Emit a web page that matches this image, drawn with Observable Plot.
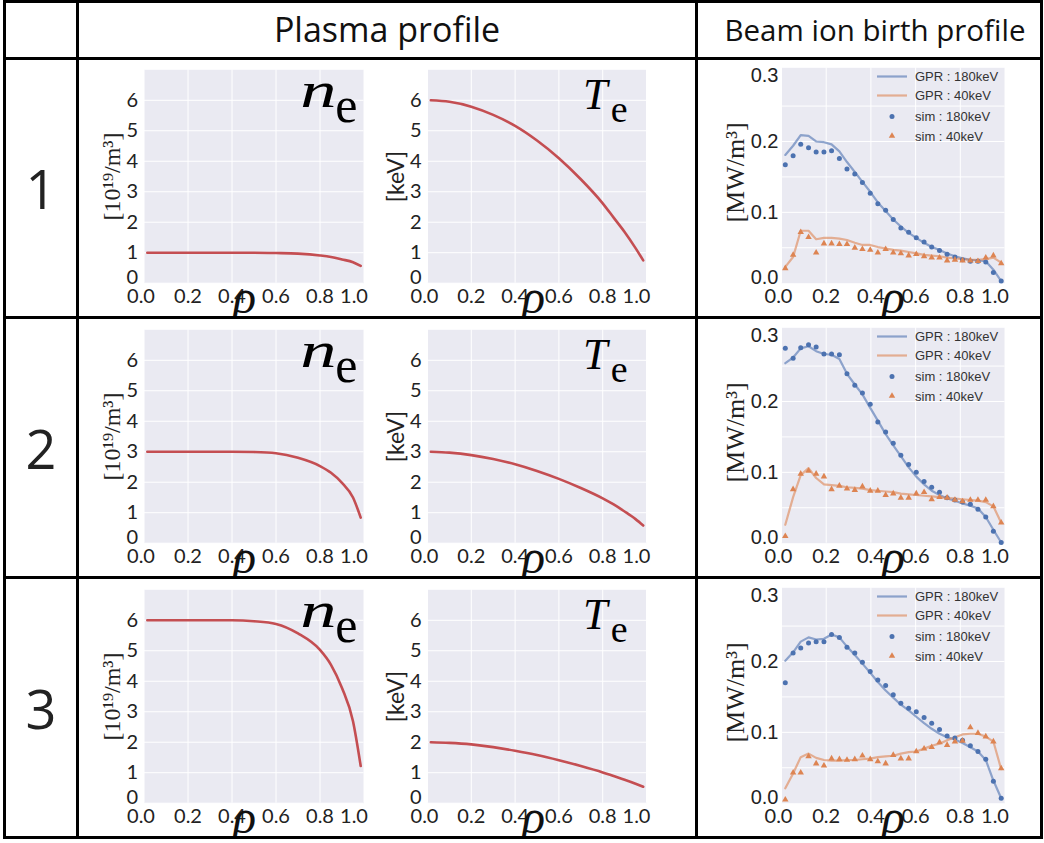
<!DOCTYPE html>
<html><head><meta charset="utf-8">
<script src="https://cdn.jsdelivr.net/npm/d3@7"></script>
<script src="https://cdn.jsdelivr.net/npm/@observablehq/plot@0.6"></script>
<style>
html,body{margin:0;padding:0;background:#fff;}
body{width:1044px;height:843px;position:relative;overflow:hidden;font-family:Lato,sans-serif;}
.box{position:absolute;}
.ln{position:absolute;background:#000;}
.hdr{position:absolute;top:0;height:58px;display:flex;align-items:center;justify-content:center;font-family:"Open Sans",sans-serif;color:#111;}
.num{position:absolute;left:6px;width:70px;display:flex;align-items:center;justify-content:center;font-family:"Open Sans",sans-serif;font-size:54px;color:#222;}
</style></head>
<body>
<div class="hdr" style="left:79px;width:616px;font-size:34px">Plasma profile</div>
<div class="hdr" style="left:704px;width:342px;font-size:29.5px">Beam ion birth profile</div>
<script>
// ---------------- data ----------------
const rowNames = ["1", "2", "3"];
const xTicks = [0, 0.2, 0.4, 0.6, 0.8, 1.0];
const plasmaYTicks = [0, 1, 2, 3, 4, 5, 6];
const beamYTicks = [0, 0.1, 0.2, 0.3];
const beamGrid = [0.05, 0.1, 0.15, 0.2, 0.25];

const rhoProfile = [0.015, 0.1, 0.2, 0.3, 0.4, 0.5, 0.6, 0.7, 0.8, 0.85, 0.9, 0.95, 0.985];
const ne1 = [1.0, 1.0, 1.0, 1.0, 1.0, 1.0, 0.99, 0.97, 0.91, 0.86, 0.78, 0.69, 0.57];
const ne2 = [3.0, 3.0, 3.0, 3.0, 3.0, 2.99, 2.95, 2.80, 2.53, 2.31, 1.98, 1.50, 0.84];
const ne3 = [6.0, 6.0, 6.0, 6.0, 6.0, 5.97, 5.88, 5.57, 5.03, 4.54, 3.78, 2.69, 1.22];
const te1 = [6.0, 5.95, 5.79, 5.52, 5.16, 4.68, 4.10, 3.41, 2.62, 2.15, 1.68, 1.15, 0.75];
const te2 = [3.0, 2.97, 2.89, 2.76, 2.59, 2.37, 2.11, 1.81, 1.47, 1.27, 1.04, 0.79, 0.58];
const te3 = [2.0, 1.98, 1.93, 1.84, 1.72, 1.58, 1.41, 1.22, 1.01, 0.89, 0.77, 0.64, 0.54];

const rhoBeam = [0.017,0.052,0.086,0.121,0.155,0.190,0.224,0.259,0.293,0.328,0.362,0.397,0.431,0.466,0.500,0.534,0.569,0.603,0.638,0.672,0.707,0.741,0.776,0.810,0.845,0.879,0.914,0.948,0.983];

const gpr180_1 = [0.181,0.194,0.209,0.208,0.200,0.199,0.196,0.186,0.171,0.157,0.143,0.129,0.114,0.102,0.090,0.080,0.071,0.064,0.057,0.051,0.047,0.042,0.038,0.035,0.033,0.032,0.031,0.019,0.003];
const gpr40_1  = [0.023,0.037,0.074,0.074,0.062,0.064,0.064,0.063,0.061,0.057,0.054,0.054,0.051,0.049,0.047,0.046,0.044,0.042,0.040,0.039,0.038,0.036,0.035,0.034,0.033,0.033,0.034,0.036,0.029];
const sim180_1 = [0.167,0.180,0.196,0.191,0.185,0.185,0.187,0.176,0.161,0.154,0.142,0.127,0.112,0.103,0.090,0.078,0.072,0.064,0.058,0.051,0.046,0.041,0.037,0.033,0.031,0.031,0.030,0.015,0.003];
const sim40_1  = [0.021,0.040,0.072,0.065,0.043,0.056,0.056,0.055,0.055,0.050,0.048,0.047,0.043,0.048,0.043,0.042,0.039,0.041,0.038,0.036,0.036,0.032,0.033,0.032,0.032,0.031,0.036,0.039,0.028];

const gpr180_2 = [0.254,0.262,0.275,0.278,0.271,0.267,0.266,0.260,0.239,0.224,0.210,0.191,0.173,0.154,0.138,0.123,0.107,0.094,0.083,0.074,0.068,0.063,0.060,0.056,0.053,0.049,0.037,0.019,0.001];
const gpr40_2  = [0.026,0.065,0.096,0.106,0.092,0.083,0.082,0.081,0.079,0.078,0.077,0.075,0.074,0.073,0.072,0.070,0.069,0.068,0.067,0.066,0.065,0.064,0.063,0.062,0.061,0.060,0.058,0.052,0.029];
const sim180_2 = [0.275,0.261,0.276,0.280,0.277,0.267,0.267,0.266,0.239,0.223,0.212,0.196,0.171,0.157,0.141,0.124,0.111,0.100,0.087,0.079,0.072,0.064,0.061,0.058,0.055,0.048,0.037,0.017,0.001];
const sim40_2  = [0.010,0.076,0.098,0.102,0.098,0.094,0.076,0.081,0.077,0.075,0.080,0.074,0.074,0.068,0.070,0.064,0.064,0.070,0.072,0.062,0.065,0.064,0.061,0.059,0.061,0.061,0.061,0.052,0.029];

const gpr180_3 = [0.201,0.213,0.228,0.234,0.231,0.232,0.238,0.234,0.221,0.209,0.197,0.184,0.171,0.159,0.149,0.139,0.131,0.122,0.113,0.105,0.098,0.093,0.090,0.085,0.079,0.073,0.061,0.032,0.007];
const gpr40_3  = [0.021,0.042,0.065,0.070,0.064,0.061,0.060,0.060,0.061,0.061,0.062,0.063,0.065,0.066,0.067,0.070,0.072,0.073,0.077,0.081,0.084,0.089,0.093,0.097,0.098,0.098,0.094,0.087,0.048];
const sim180_3 = [0.170,0.212,0.219,0.226,0.228,0.228,0.238,0.234,0.220,0.212,0.199,0.186,0.174,0.166,0.153,0.141,0.134,0.129,0.121,0.113,0.104,0.095,0.092,0.089,0.081,0.073,0.062,0.031,0.007];
const sim40_3  = [0.005,0.043,0.043,0.066,0.056,0.053,0.063,0.062,0.061,0.062,0.067,0.062,0.059,0.056,0.068,0.063,0.063,0.073,0.077,0.079,0.086,0.082,0.087,0.088,0.107,0.099,0.094,0.087,0.049];

const neRows = [ne1, ne2, ne3];
const teRows = [te1, te2, te3];
const beamRows = [
  [gpr180_1, gpr40_1, sim180_1, sim40_1],
  [gpr180_2, gpr40_2, sim180_2, sim40_2],
  [gpr180_3, gpr40_3, sim180_3, sim40_3]
];
const legendLabels = ["GPR : 180keV", "GPR : 40keV", "sim : 180keV", "sim : 40keV"];

// ---------------- style ----------------
const BG = "#eaeaf2", RED = "#c44e52", BLUE = "#4c72b0", ORANGE = "#dd8452";
const ROW0 = 57, ROWSTEP = 260, H = 259;

function place(el, left, top) {
  const d = document.createElement("div");
  d.className = "box";
  d.style.left = left + "px";
  d.style.top = top + "px";
  d.appendChild(el);
  document.body.appendChild(d);
  return d;
}

const rhoMark = (dx) => Plot.text(["\u03C1"], {text: d => d, frameAnchor: "bottom", lineAnchor: "middle", textAnchor: "middle",
  dx, dy: 14, fontFamily: "Liberation Serif", fontStyle: "italic", fontSize: 48, fill: "#111"});

function appendTransform(el, extra) {
  const t = el.getAttribute("transform");
  el.setAttribute("transform", (t ? t + " " : "") + extra);
}

function stretchN(plot) {
  d3.select(plot).selectAll("text").filter(function() { return this.textContent === "n"; }).each(function() {
    const t = this.getAttribute("transform");
    if (t) {
      this.setAttribute("transform", t + " scale(1.45,1)");
    } else {
      const x = parseFloat(this.getAttribute("x")) || 0;
      this.setAttribute("x", 0);
      this.setAttribute("transform", `translate(${x},0) scale(1.45,1)`);
    }
  });
}

// edge tick labels are nudged inward in the reference
function nudgeTicks(plot, yShift, beam) {
  const sel = d3.select(plot);
  sel.selectAll('g[aria-label="y-axis tick label"]').each(function() {
    if (beam) this.setAttribute("font-family", "Liberation Sans");
    d3.select(this).selectAll("text").each(function() {
      const s = this.textContent;
      if (s in yShift) appendTransform(this, `translate(0,${yShift[s]})`);
    });
  });
  sel.selectAll('g[aria-label="x-axis tick label"] text').each(function() {
    if (this.textContent === "1.0") appendTransform(this, "translate(-10,0)");
    if (this.textContent === "0.0") appendTransform(this, "translate(-3,0)");
  });
}

function profilePlot(vals, kind) {
  const data = rhoProfile.map((r, i) => ({rho: r, v: vals[i]}));
  const isNe = kind === "ne";
  const W = isNe ? 300 : 314;
  const ml = isNe ? 63.5 : 47;
  const mr = isNe ? 16.5 : 48;
  const plot = Plot.plot({
    width: W, height: H,
    marginLeft: ml, marginRight: mr, marginTop: 12.3, marginBottom: 33.3,
    style: {background: "transparent", fontFamily: "Lato", fontSize: "20px", color: "#222", overflow: "hidden"},
    x: {domain: [0, 1], ticks: xTicks, tickFormat: d3.format(".1f"), tickSize: 0, tickPadding: 6, label: null},
    y: {domain: [0, 7], ticks: plasmaYTicks, tickFormat: d3.format("d"), tickSize: 0, tickPadding: 6, label: null},
    marks: [
      Plot.frame({fill: BG, stroke: "none"}),
      Plot.ruleX(xTicks, {stroke: "white", strokeWidth: 1}),
      Plot.ruleY(plasmaYTicks, {stroke: "white", strokeWidth: 1}),
      Plot.line(data, {x: "rho", y: "v", stroke: RED, strokeWidth: 2.6, curve: "monotone-x"}),
      Plot.text([isNe ? "[10\u00B9\u2079/m\u00B3]" : "[keV]"], {
        text: d => d, frameAnchor: "left", textAnchor: "middle", lineAnchor: "middle", rotate: -90,
        dx: isNe ? -31.5 : -31,
        fontFamily: isNe ? "Liberation Serif" : "Lato", fontSize: isNe ? 24 : 23, fill: "#222"
      }),
      rhoMark(isNe ? -9.5 : -3.5),
      Plot.text([isNe ? "n" : "T"], {text: d => d, frameAnchor: "top-right", textAnchor: "end", lineAnchor: "middle",
        dx: isNe ? -27.5 : -39, dy: isNe ? 20.7 : 25.6, fontFamily: "Liberation Serif", fontStyle: "italic",
        fontSize: isNe ? 50 : 44, fill: "#000"}),
      Plot.text(["e"], {text: d => d, frameAnchor: "top-right", textAnchor: "end", lineAnchor: "middle",
        dx: isNe ? -6.5 : -19, dy: isNe ? 35.7 : 40.5, fontFamily: "Liberation Serif",
        fontSize: isNe ? 50 : 38, fill: "#000"})
    ]
  });
  if (isNe) stretchN(plot);
  nudgeTicks(plot, {"0": -6}, false);
  return plot;
}

function beamPlot(series) {
  const [g180, g40, s180, s40] = series;
  const mk = arr => rhoBeam.map((r, i) => ({rho: r, v: arr[i]}));
  const plot = Plot.plot({
    width: 340, height: H,
    marginLeft: 82, marginRight: 34.5, marginTop: 10.3, marginBottom: 33.3,
    style: {background: "transparent", fontFamily: "Lato", fontSize: "20px", color: "#222", overflow: "hidden"},
    x: {domain: [0, 1], ticks: xTicks, tickFormat: d3.format(".1f"), tickSize: 0, tickPadding: 6, label: null},
    y: {domain: [0, 0.304], ticks: beamYTicks, tickFormat: d3.format(".1f"), tickSize: 0, tickPadding: 3, label: null},
    marks: [
      Plot.frame({fill: BG, stroke: "none"}),
      Plot.ruleX(xTicks, {stroke: "white", strokeWidth: 1}),
      Plot.ruleY(beamGrid, {stroke: "white", strokeWidth: 1}),
      Plot.line(mk(g180), {x: "rho", y: "v", stroke: BLUE, strokeOpacity: 0.6, strokeWidth: 2.2}),
      Plot.line(mk(g40), {x: "rho", y: "v", stroke: ORANGE, strokeOpacity: 0.6, strokeWidth: 2.2}),
      Plot.dot(mk(s180), {x: "rho", y: "v", r: 2.5, fill: BLUE, stroke: "none"}),
      Plot.dot(mk(s40), {x: "rho", y: "v", r: 2.4, symbol: "triangle", fill: ORANGE, stroke: "none"}),
      Plot.text(["[MW/m\u00B3]"], {text: d => d, frameAnchor: "left", textAnchor: "middle", lineAnchor: "middle",
        rotate: -90, dx: -46, dy: -3, fontFamily: "Liberation Serif", fontSize: 26, fill: "#222"}),
      rhoMark(0)
    ]
  });
  nudgeTicks(plot, {"0.0": -6, "0.3": 5}, true);
  return plot;
}

function beamLegend() {
  const svg = d3.create("svg").attr("width", 170).attr("height", 80)
    .style("overflow", "visible").style("display", "block");
  const ys = [9.5, 28.5, 49.5, 69];
  const colors = [BLUE, ORANGE, BLUE, ORANGE];
  legendLabels.forEach((lab, i) => {
    if (i < 2) {
      svg.append("line").attr("x1", 0).attr("x2", 30).attr("y1", ys[i]).attr("y2", ys[i])
        .attr("stroke", colors[i]).attr("stroke-opacity", 0.6).attr("stroke-width", 2.2);
    } else if (i === 2) {
      svg.append("circle").attr("cx", 15).attr("cy", ys[i]).attr("r", 2.5).attr("fill", colors[i]);
    } else {
      svg.append("path").attr("d", d3.symbol(d3.symbolTriangle, Math.PI * 2.4 * 2.4)())
        .attr("transform", `translate(15,${ys[i]})`).attr("fill", colors[i]);
    }
    svg.append("text").attr("x", 38).attr("y", ys[i]).attr("dy", "0.35em")
      .attr("font-family", "Liberation Sans").attr("font-size", 13).attr("fill", "#333").text(lab);
  });
  return svg.node();
}

for (let r = 0; r < 3; r++) {
  const top = ROW0 + ROWSTEP * r;
  place(profilePlot(neRows[r], "ne"), 80, top);
  place(profilePlot(teRows[r], "te"), 380, top);
  place(beamPlot(beamRows[r]), 699, top);
  place(beamLegend(), 877, top + 10);
  const n = document.createElement("div");
  n.className = "num";
  n.style.top = (top + 3) + "px";
  n.style.height = (H - 3) + "px";
  n.textContent = rowNames[r];
  document.body.appendChild(n);
}

// table rules
const hLines = [0, 57, 316, 576, 836];
const vLines = [3, 76, 695, 1040];
hLines.forEach(y => {
  const d = document.createElement("div"); d.className = "ln";
  Object.assign(d.style, {left: "3px", top: y + "px", width: "1040px", height: "3px"});
  document.body.appendChild(d);
});
vLines.forEach(x => {
  const d = document.createElement("div"); d.className = "ln";
  Object.assign(d.style, {left: x + "px", top: "0px", width: "3px", height: "839px"});
  document.body.appendChild(d);
});
</script>
</body></html>
